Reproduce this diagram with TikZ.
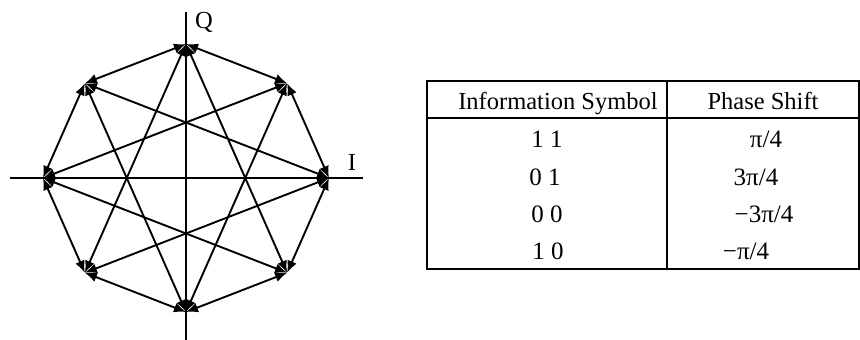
\documentclass[tikz,border=0pt]{standalone}
\usepackage{fontspec}
\setmainfont{Liberation Serif}
\usetikzlibrary{arrows.meta}
\begin{document}
\begin{tikzpicture}[x=1pt,y=-1pt,
  edge/.style={line width=1.9pt,{Latex[length=12pt,width=10pt]}-{Latex[length=12pt,width=10pt]}},
  axis/.style={line width=1.7pt},
  rule/.style={line width=1.8pt},
  lbl/.style={inner sep=0pt,anchor=base,font=\fontsize{24.5}{28}\selectfont},
  cell/.style={inner sep=0pt,anchor=base,font=\fontsize{25}{29}\selectfont}]
\useasboundingbox (0,0) rectangle (860,340);
\fill[white] (0,0) rectangle (860,340);
% constellation points
\coordinate (c) at (186,178);
\foreach \i in {0,...,7}{
  \coordinate (p\i) at ({186+143*cos(45*\i)},{178-134*sin(45*\i)});
}
% axes
\coordinate (yt) at (186,12);
\coordinate (yb) at (186,340);
\coordinate (xl) at (10,178);
\coordinate (xr) at (363,178);
\draw[axis] (yt) -- (yb);
\draw[axis] (xl) -- (xr);
\node[lbl] (Q) at (204,28) {Q};
\node[lbl] (I) at (352,170) {I};
% transitions
\foreach \i in {0,...,7}{
  \pgfmathtruncatemacro{\j}{mod(\i+1,8)}
  \pgfmathtruncatemacro{\k}{mod(\i+3,8)}
  \draw[edge] (p\i) -- (p\j);
  \draw[edge] (p\i) -- (p\k);
}
% table
\coordinate (tl) at (427,81);
\coordinate (br) at (859,269);
\draw[rule] (tl) rectangle (br);
\coordinate (hl) at (427,118);
\coordinate (hr) at (859,118);
\draw[rule] (hl) -- (hr);
\coordinate (dt) at (667,81);
\coordinate (db) at (667,269);
\draw[rule] (dt) -- (db);
\node[lbl] (h1) at (558,109) {Information Symbol};
\node[lbl] (h2) at (763,109) {Phase Shift};
\node[cell] (a1) at (547,147) {1 1};
\node[cell] (a2) at (545,185) {0 1};
\node[cell] (a3) at (547,222.5) {0 0};
\node[cell] (a4) at (548,259) {1 0};
\node[cell] (b1) at (766,147) {π/4};
\node[cell] (b2) at (756,185) {3π/4};
\node[cell] (b3) at (764,222.5) {−3π/4};
\node[cell] (b4) at (746,259) {−π/4};
\end{tikzpicture}
\end{document}
